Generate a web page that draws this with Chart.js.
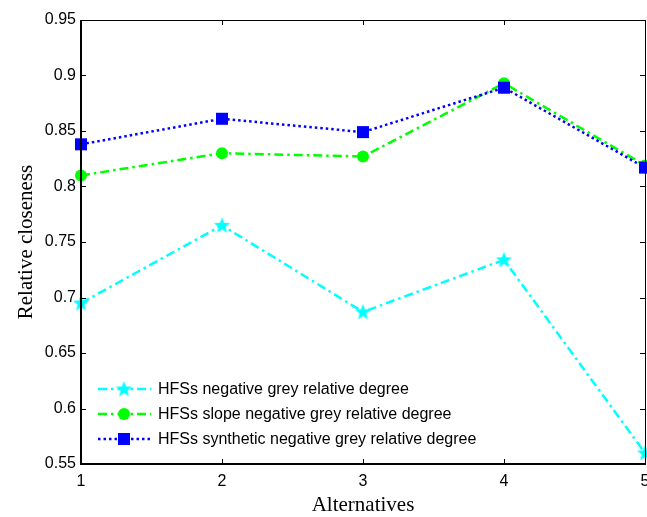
<!DOCTYPE html>
<html><head><meta charset="utf-8">
<script src="https://cdn.jsdelivr.net/npm/chart.js@4.4.1/dist/chart.umd.min.js"></script>
<style>
html,body{margin:0;padding:0;overflow:hidden;background:#fff;width:647px;height:517px}
#wrap{width:660px;height:517px}
</style>
</head><body><div id="wrap"><canvas id="c" width="660" height="517"></canvas></div>
<script>
const alternatives = [1, 2, 3, 4, 5];
const xTickLabels = ['1', '2', '3', '4', '5'];
const yTickLabels = ['0.55', '0.6', '0.65', '0.7', '0.75', '0.8', '0.85', '0.9', '0.95'];
const seriesNames = [
  'HFSs negative grey relative degree',
  'HFSs slope negative grey relative degree',
  'HFSs synthetic negative grey relative degree'
];
const negativeGrey = [0.695, 0.765, 0.687, 0.734, 0.560];
const slopeNegativeGrey = [0.810, 0.830, 0.827, 0.893, 0.819];
const syntheticNegativeGrey = [0.838, 0.861, 0.849, 0.889, 0.817];

function makeStar(color, R) {
  const s = Math.ceil(R * 2 + 2);
  const c = document.createElement('canvas');
  c.width = s; c.height = s;
  const g = c.getContext('2d');
  g.translate(s / 2, s / 2 + 0.5);
  g.beginPath();
  for (let i = 0; i < 10; i++) {
    const r = i % 2 ? R * 0.42 : R;
    const a = -Math.PI / 2 + i * Math.PI / 5;
    g.lineTo(r * Math.cos(a), r * Math.sin(a));
  }
  g.closePath();
  g.fillStyle = color; g.fill();
  return c;
}
const starImg = makeStar('#00FFFF', 8.5);

const styles = [
  {color: '#00FFFF', dash: [9, 4, 2.5, 4], point: starImg, radius: 8},
  {color: '#00FF00', dash: [9, 4, 2.5, 4], point: 'circle', radius: 6},
  {color: '#0000FF', dash: [2.5, 3], point: 'rect', radius: 8.5}
];
const seriesData = [negativeGrey, slopeNegativeGrey, syntheticNegativeGrey];

const datasets = seriesData.map((arr, i) => ({
  label: seriesNames[i],
  data: alternatives.map((x, j) => ({x: x, y: arr[j]})),
  borderColor: styles[i].color,
  backgroundColor: styles[i].color,
  borderWidth: 2.5,
  borderDash: styles[i].dash,
  pointStyle: styles[i].point,
  pointRadius: styles[i].radius,
  pointBorderWidth: 0,
  pointBackgroundColor: styles[i].color,
  pointBorderColor: styles[i].color,
  tension: 0,
  clip: false,
  order: 3 - i
}));

const boxPlugin = {
  id: 'box',
  afterDatasetsDraw(chart) {
    const {ctx, chartArea: a, scales} = chart;
    ctx.save();
    ctx.strokeStyle = '#000';
    ctx.setLineDash([]);
    ctx.lineWidth = 1;
    const tl = 5;
    ctx.beginPath();
    scales.x.ticks.forEach(t => {
      const px = Math.round(scales.x.getPixelForValue(t.value)) + 0.5;
      ctx.moveTo(px, a.bottom); ctx.lineTo(px, a.bottom - tl);
      ctx.moveTo(px, a.top); ctx.lineTo(px, a.top + tl);
    });
    scales.y.ticks.forEach(t => {
      const py = Math.round(scales.y.getPixelForValue(t.value)) + 0.5;
      ctx.moveTo(a.left, py); ctx.lineTo(a.left + tl, py);
      ctx.moveTo(a.right, py); ctx.lineTo(a.right - tl, py);
    });
    ctx.stroke();
    ctx.beginPath();
    ctx.lineWidth = 1;
    ctx.moveTo(a.left, a.top + 0.5); ctx.lineTo(a.right + 0.5, a.top + 0.5);
    ctx.lineTo(a.right + 0.5, a.bottom);
    ctx.stroke();
    ctx.beginPath();
    ctx.lineWidth = 2;
    ctx.moveTo(a.left, a.top); ctx.lineTo(a.left, a.bottom);
    ctx.lineTo(a.right + 1, a.bottom);
    ctx.stroke();

    ctx.font = '16px "Liberation Sans", Arial, sans-serif';
    ctx.textBaseline = 'middle';
    ctx.textAlign = 'left';
    seriesNames.forEach((name, i) => {
      const y = 389 + 25 * i;
      const st = styles[i];
      ctx.save();
      ctx.strokeStyle = st.color;
      ctx.lineWidth = 2.5;
      ctx.setLineDash(st.dash);
      ctx.beginPath();
      ctx.moveTo(98, y); ctx.lineTo(151, y);
      ctx.stroke();
      ctx.setLineDash([]);
      ctx.fillStyle = st.color;
      const mx = 124;
      if (st.point === 'circle') {
        ctx.beginPath(); ctx.arc(mx, y, st.radius, 0, Math.PI * 2); ctx.fill();
      } else if (st.point === 'rect') {
        const h = st.radius * Math.SQRT1_2;
        ctx.fillRect(mx - h, y - h, 2 * h, 2 * h);
      } else {
        ctx.drawImage(st.point, mx - st.point.width / 2, y - st.point.height / 2);
      }
      ctx.restore();
      ctx.fillStyle = '#000';
      ctx.fillText(name, 158, y + 1);
    });
    ctx.restore();
  }
};

new Chart(document.getElementById('c'), {
  type: 'line',
  data: {datasets: datasets},
  options: {
    responsive: false,
    animation: false,
    devicePixelRatio: 1,
    layout: {padding: {left: 0, top: 20, right: 15, bottom: 0}},
    plugins: {legend: {display: false}, tooltip: {enabled: false}},
    scales: {
      x: {
        type: 'linear', min: 1, max: 5,
        afterBuildTicks: s => { s.ticks = alternatives.map(v => ({value: v})); },
        afterFit: s => { s.height = 53; },
        grid: {display: false, drawTicks: false},
        border: {display: false},
        ticks: {
          color: '#000', padding: 8, maxRotation: 0, autoSkip: false,
          font: {family: '"Liberation Sans", Arial, sans-serif', size: 16},
          callback: (v, i) => xTickLabels[i]
        },
        title: {
          display: true, text: 'Alternatives', color: '#000',
          font: {family: '"Liberation Serif", "Times New Roman", serif', size: 21, lineHeight: 1},
          padding: {top: 0, bottom: 1}
        }
      },
      y: {
        type: 'linear', min: 0.55, max: 0.95,
        afterBuildTicks: s => { s.ticks = yTickLabels.map(v => ({value: parseFloat(v)})); },
        afterFit: s => { s.width = 81; },
        grid: {display: false, drawTicks: false},
        border: {display: false},
        ticks: {
          color: '#000', padding: 5, autoSkip: false,
          font: {family: '"Liberation Sans", Arial, sans-serif', size: 16},
          callback: (v, i) => yTickLabels[i]
        },
        title: {
          display: true, text: 'Relative closeness', color: '#000',
          font: {family: '"Liberation Serif", "Times New Roman", serif', size: 21},
          padding: {top: 14, bottom: 0}
        }
      }
    }
  },
  plugins: [boxPlugin]
});
</script>
</body></html>
